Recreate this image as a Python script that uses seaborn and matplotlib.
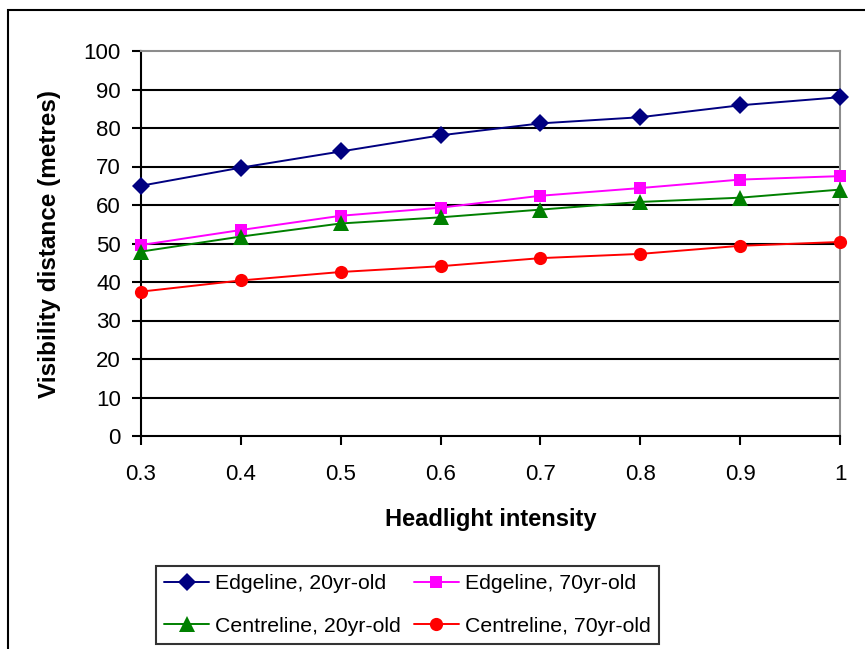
import matplotlib
matplotlib.use("Agg")
import matplotlib.pyplot as plt
import seaborn as sns
import pandas as pd
from matplotlib.patches import Rectangle

intensity = [0.3, 0.4, 0.5, 0.6, 0.7, 0.8, 0.9, 1.0]
edge_20 = [65.0, 69.7, 73.9, 78.1, 81.2, 82.8, 85.9, 88.0]
edge_70 = [49.6, 53.5, 57.2, 59.3, 62.4, 64.4, 66.6, 67.5]
centre_20 = [47.9, 51.8, 55.2, 56.8, 58.8, 60.8, 61.9, 64.0]
centre_70 = [37.5, 40.4, 42.6, 44.1, 46.2, 47.3, 49.4, 50.4]
series_names = ["Edgeline, 20yr-old", "Edgeline, 70yr-old",
                "Centreline, 20yr-old", "Centreline, 70yr-old"]
x_tick_labels = ["0.3", "0.4", "0.5", "0.6", "0.7", "0.8", "0.9", "1"]
y_ticks = [0, 10, 20, 30, 40, 50, 60, 70, 80, 90, 100]

colors = ["#000080", "#FF00FF", "#008000", "#FF0000"]
marker_list = ["D", "s", "^", "o"]
msizes = [9, 9, 11, 9.5]

rows = []
for name, vals in zip(series_names, [edge_20, edge_70, centre_20, centre_70]):
    for xv, yv in zip(intensity, vals):
        rows.append({"Headlight intensity": xv, "Visibility": yv, "Series": name})
df = pd.DataFrame(rows)

sns.set_style("white")
plt.rcParams["font.family"] = ["Liberation Sans", "DejaVu Sans"]
plt.rcParams["text.color"] = "black"
plt.rcParams["axes.labelcolor"] = "black"
plt.rcParams["xtick.color"] = "black"
plt.rcParams["ytick.color"] = "black"

fig = plt.figure(figsize=(8.65, 6.49), dpi=100)
ax = fig.add_axes([141/865, 1-436/649, (840-141)/865, (436-51)/649])

for name, col, mk, ms in zip(series_names, colors, marker_list, msizes):
    sub = df[df["Series"] == name]
    sns.lineplot(data=sub, x="Headlight intensity", y="Visibility", ax=ax,
                 color=col, marker=mk, markersize=ms, markeredgewidth=0,
                 linewidth=1.4, label=name, zorder=3, clip_on=False)

ax.set_xlim(0.3, 1.0)
ax.set_ylim(0, 100)
ax.set_xticks(intensity)
ax.set_xticklabels(x_tick_labels)
ax.set_yticks(y_ticks)
for yv in y_ticks[1:-1]:
    ax.axhline(yv, color="black", lw=1.5, zorder=1)

ax.set_xlabel("Headlight intensity", fontsize=17, fontweight="bold", labelpad=16,
              color="black")
ax.set_ylabel("Visibility distance (metres)", fontsize=17.5, fontweight="bold",
              labelpad=16, color="black")
ax.tick_params(axis="both", labelsize=16, direction="out", length=6.5, width=1.5,
               color="black", labelcolor="black", left=True, bottom=True)
ax.tick_params(axis="x", pad=14)
ax.tick_params(axis="y", pad=8)

for side in ["left", "bottom"]:
    ax.spines[side].set_color("black")
    ax.spines[side].set_linewidth(1.5)
for side in ["top", "right"]:
    ax.spines[side].set_color("#8c8c8c")
    ax.spines[side].set_linewidth(1.5)
    ax.spines[side].set_visible(True)

handles, labels = ax.get_legend_handles_labels()
order = [0, 2, 1, 3]
if ax.get_legend():
    ax.get_legend().remove()
leg = fig.legend([handles[i] for i in order], [labels[i] for i in order],
                 loc="center", bbox_to_anchor=(407.5/865, 1-605/649),
                 ncol=2, fontsize=15.3, frameon=True, fancybox=False, edgecolor="black",
                 handlelength=2.1, labelspacing=1.1, columnspacing=0.6,
                 handletextpad=0.3, borderpad=0.4, borderaxespad=0)
leg.get_frame().set_linewidth(1.5)
for t in leg.get_texts():
    t.set_color("black")

frame = Rectangle((8/865, -0.2), 1.5, 1.2 - 10/649, transform=fig.transFigure,
                  fill=False, edgecolor="black", lw=1.5, clip_on=False)
fig.patches.append(frame)

fig.savefig("out.png", dpi=100)
